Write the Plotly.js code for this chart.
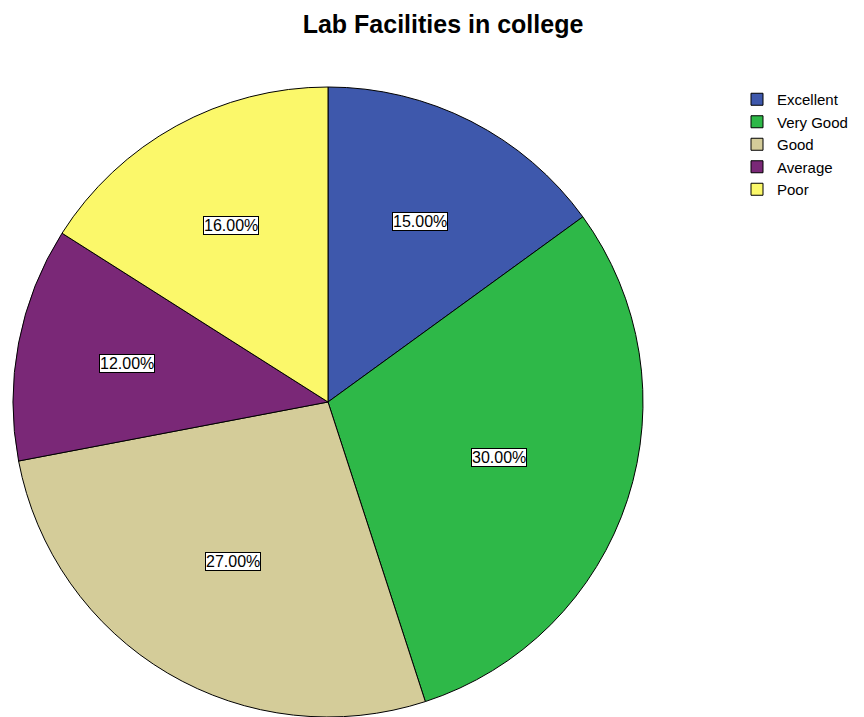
<!DOCTYPE html>
<html>
<head>
<meta charset="utf-8">
<script src="https://cdn.plot.ly/plotly-3.0.1.min.js"></script>
<style>
html,body{margin:0;padding:0;background:#fff;overflow:hidden;}
#chart{width:864px;height:717px;}
</style>
</head>
<body>
<div id="chart"></div>
<script>
const categories = ["Excellent", "Very Good", "Good", "Average", "Poor"];
const percentages = [15, 30, 27, 12, 16];
const colors = ["#3E58AC", "#2EB848", "#D4CC99", "#7A2877", "#FBF86A"];

const W = 864, H = 717;
const margin = {l: 0, r: 0, t: 87, b: 0};
const plotH = H - margin.t - margin.b;
const plotW = W - margin.l - margin.r;
const radius = plotH / 2;
const cx = 328, cy = margin.t + radius;
const domX = [(cx - radius) / W, (cx + radius) / W];

const total = percentages.reduce((a, b) => a + b, 0);
const annotations = [];
let cum = 0;
percentages.forEach((v) => {
  const mid = (cum + v / 2) / total;
  const half = Math.PI * v / total; // half-angle of the sector
  cum += v;
  // label at the sector's centroid
  const dist = radius * 2 * Math.sin(half) / (3 * half);
  const th = 2 * Math.PI * mid;
  const px = cx + dist * Math.sin(th);
  const py = cy - dist * Math.cos(th);
  annotations.push({
    x: (px - margin.l) / plotW, y: 1 - (py - margin.t) / plotH, xref: "paper", yref: "paper",
    text: (v / total * 100).toFixed(2) + "%",
    showarrow: false,
    font: {family: "Liberation Sans, Arial, sans-serif", size: 16, color: "#000"},
    bgcolor: "#ffffff", bordercolor: "#000000", borderwidth: 1, borderpad: 0,
    xanchor: "center", yanchor: "middle"
  });
});

const trace = {
  type: "pie",
  labels: categories,
  values: percentages,
  sort: false,
  direction: "clockwise",
  rotation: 0,
  textinfo: "none",
  hoverinfo: "label+percent",
  marker: {colors: colors, line: {color: "#000000", width: 1}},
  domain: {x: domX, y: [0, 1]}
};

const layout = {
  width: W, height: H,
  margin: margin,
  paper_bgcolor: "#ffffff",
  title: {
    text: "<b>Lab Facilities in college</b>",
    x: 443 / W, xanchor: "center", y: 1 - 24 / H, yanchor: "middle",
    font: {family: "Liberation Sans, Arial, sans-serif", size: 25, color: "#000"}
  },
  showlegend: true,
  legend: {
    x: (737 - margin.l) / plotW, xanchor: "left", y: 1 - (83 - margin.t) / plotH, yanchor: "top",
    font: {family: "Liberation Sans, Arial, sans-serif", size: 15, color: "#000"},
    itemwidth: 30, tracegroupgap: 0,
    bgcolor: "rgba(0,0,0,0)"
  },
  annotations: annotations
};

Plotly.newPlot("chart", [trace], layout, {displayModeBar: false, staticPlot: true});
</script>
</body>
</html>
